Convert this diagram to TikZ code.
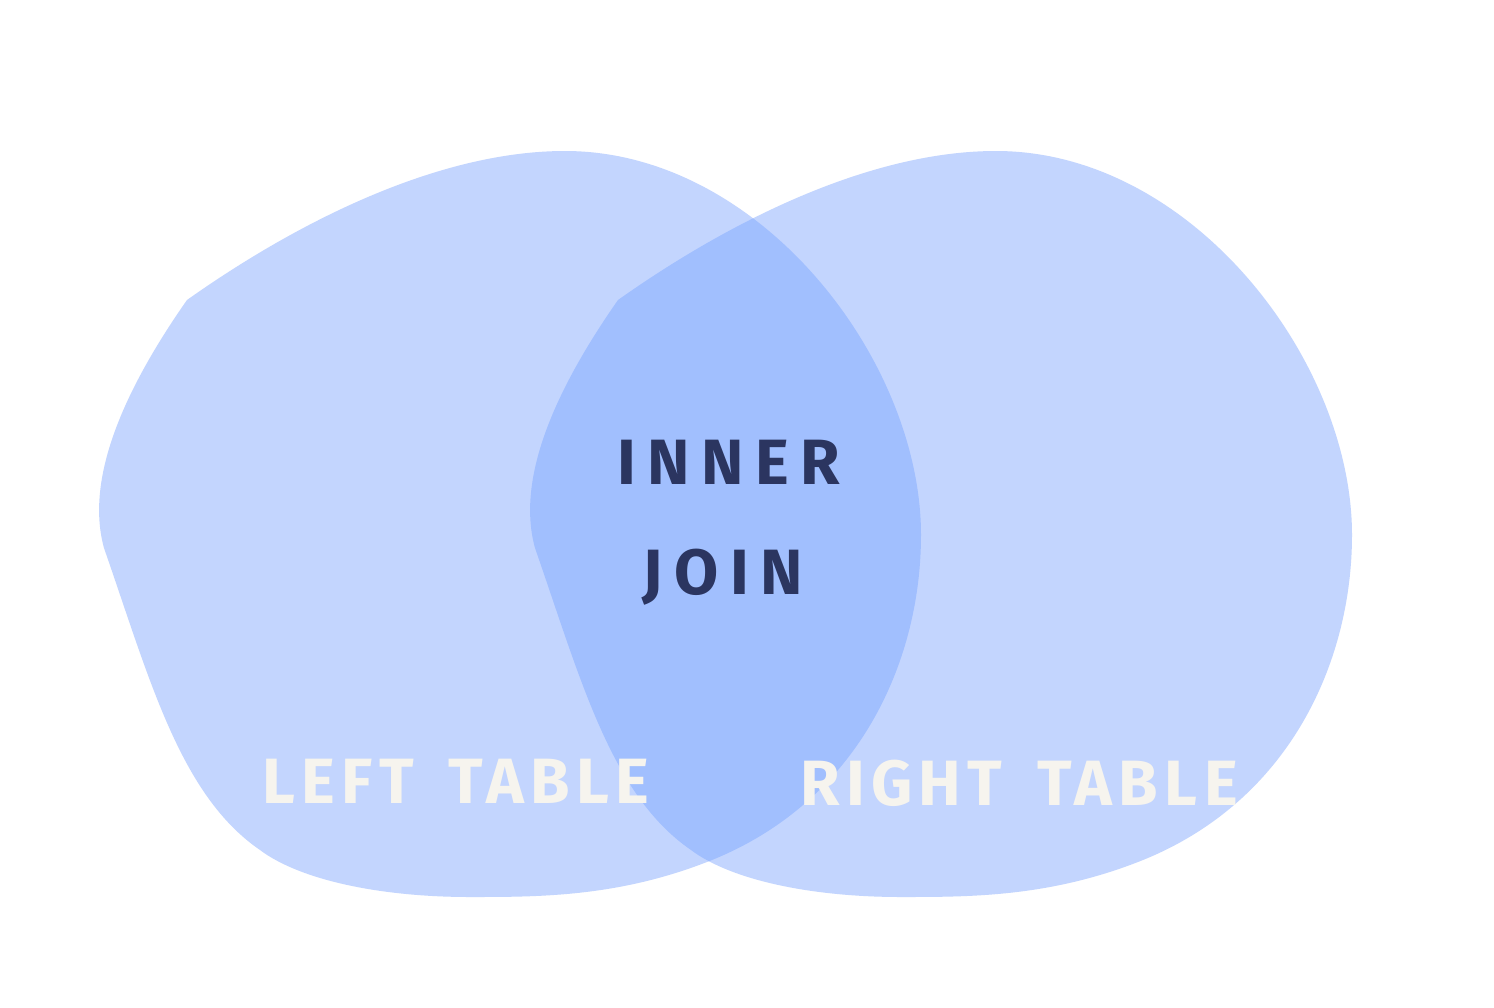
\documentclass[tikz,border=0pt]{standalone}
\usepackage{fontspec}
\newfontfamily\handfont[LetterSpace=10,WordSpace=1.6]{Fira Sans}
\newfontfamily\handfontwide[LetterSpace=18]{Fira Sans}
\definecolor{blobfill}{HTML}{C3D5FE}
\definecolor{overlapfill}{HTML}{A1BFFE}
\definecolor{navytext}{HTML}{2B3560}
\definecolor{whitetext}{HTML}{F6F4EE}
\def\blobpath{(187,300) .. controls (300,220) and (440,151) .. (565,151)
 .. controls (760,151) and (921,360) .. (921,535)
 .. controls (921,660) and (860,800) .. (712,860)
 .. controls (620,897) and (540,897) .. (470,897)
 .. controls (380,897) and (300,880) .. (260,850)
 .. controls (180,795) and (150,680) .. (104,548)
 .. controls (88,490) and (110,410) .. (187,300) -- cycle}
\tikzset{
  lbl/.style={inner sep=0pt, anchor=base, font=\handfont\bfseries\fontsize{64}{70}\selectfont},
  darklbl/.style={inner sep=0pt, anchor=base, text=navytext, font=\handfontwide\bfseries\fontsize{64}{70}\selectfont},
  lightlbl/.style={lbl, text=whitetext}
}
\begin{document}
\begin{tikzpicture}[x=1pt,y=-1pt]
\useasboundingbox (0,0) rectangle (1494,1007);
\fill[white] (0,0) rectangle (1494,1007);
\fill[blobfill] \blobpath;
\begin{scope}[xshift=431pt]
\fill[blobfill] \blobpath;
\end{scope}
\begin{scope}
\clip \blobpath;
\begin{scope}[xshift=431pt]
\fill[overlapfill] \blobpath;
\end{scope}
\end{scope}
\node[darklbl] (inner) at (729,484) {INNER};
\node[darklbl] (join) at (723,594) {JOIN};
\node[lightlbl] (left) at (456,803) {LEFT TABLE};
\node[lightlbl] (right) at (1019,805) {RIGHT TABLE};
\end{tikzpicture}
\end{document}
